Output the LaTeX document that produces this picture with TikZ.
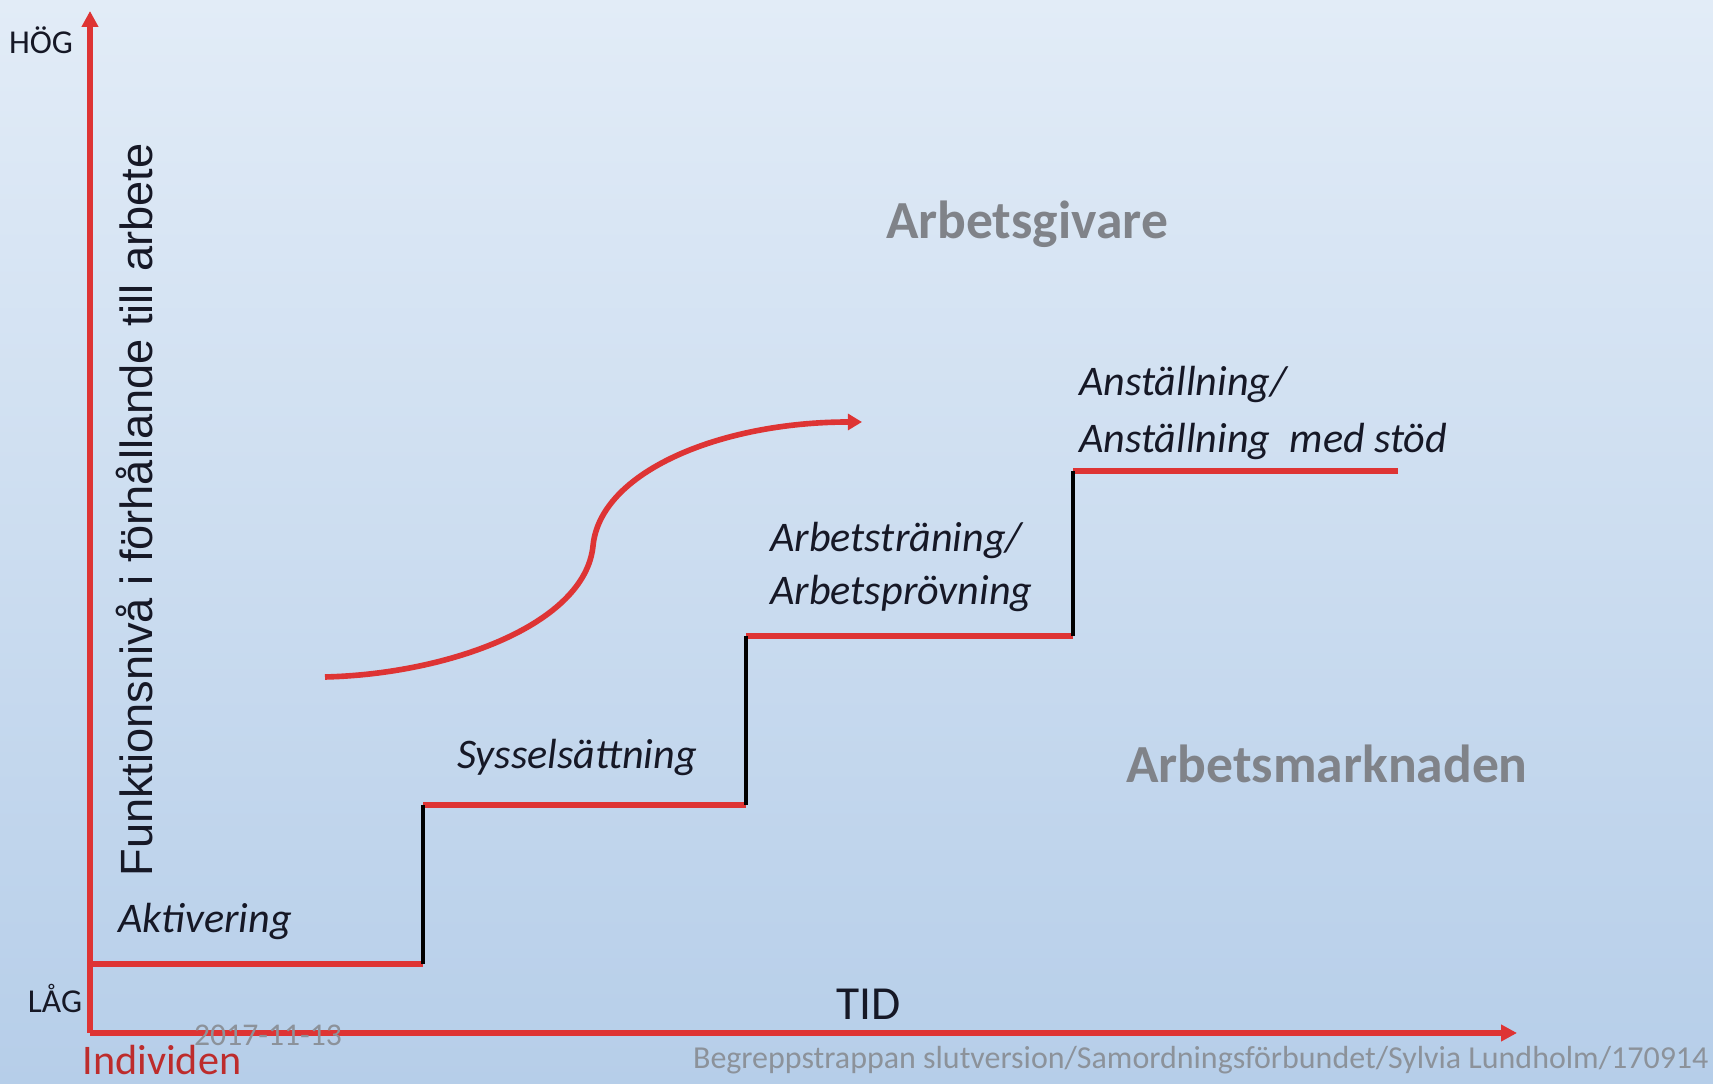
\documentclass[tikz,border=0pt]{standalone}
\usepackage{fontspec}
\setmainfont{Carlito}
\newfontfamily\axisfont{Liberation Sans}
\usetikzlibrary{positioning,arrows.meta}

\definecolor{StairRed}{RGB}{222,52,52}
\definecolor{LabelGray}{RGB}{128,131,137}
\definecolor{FooterGray}{RGB}{140,146,154}
\definecolor{SkyTop}{RGB}{226,236,247}
\definecolor{SkyBottom}{RGB}{182,206,233}
\definecolor{InkBlue}{RGB}{22,24,38}

\tikzset{
	redline/.style={StairRed, line width=3.2pt},
	riser/.style={black, line width=2.2pt},
	steplabel/.style={font=\itshape\fontsize{24}{30}\selectfont, text=InkBlue, inner sep=0pt},
	arealabel/.style={font=\bfseries\fontsize{30.5}{36}\selectfont, text=LabelGray, inner sep=0pt},
	levellabel/.style={font=\fontsize{19}{22}\selectfont, text=InkBlue, inner sep=0pt}
}

\begin{document}
\begin{tikzpicture}[x=0.02cm, y=0.02cm]
			\shade [top color=SkyTop, bottom color=SkyBottom] (0,0) rectangle (1713,1084);
			\useasboundingbox (0,0) rectangle (1713,1084);
			\pgfmathsetmacro{\LowLevel}{120}
			\pgfmathsetmacro{\SecondLevel}{279}
			\pgfmathsetmacro{\ThirdLevel}{448}
			\pgfmathsetmacro{\TopLevel}{613}
			\coordinate (OriginPoint) at (90,51);
			\coordinate (YAxisTip) at (90,1073);
			\coordinate (XAxisTip) at (1517,51);
			\coordinate (StairStart) at (93,\LowLevel);
			\coordinate (RiserOneBottom) at (423,\LowLevel);
			\coordinate (RiserOneTop) at (423,\SecondLevel);
			\coordinate (RiserTwoBottom) at (746,\SecondLevel);
			\coordinate (RiserTwoTop) at (746,\ThirdLevel);
			\coordinate (RiserThreeBottom) at (1073,\ThirdLevel);
			\coordinate (RiserThreeTop) at (1073,\TopLevel);
			\coordinate (StairEnd) at (1398,\TopLevel);
			\coordinate (CurveStart) at (325,407);
			\coordinate (CurveMiddle) at (593,538);
			\coordinate (CurveEnd) at (862,662);
			% axes
			\draw [redline, -{Triangle[length=9pt, width=9pt]}] (OriginPoint) -- (YAxisTip);
			\draw [redline, -{Triangle[length=9pt, width=9pt]}] (OriginPoint) -- (XAxisTip);
			% stairs
			\draw [redline] (StairStart) -- (RiserOneBottom);
			\draw [redline] (RiserOneTop) -- (RiserTwoBottom);
			\draw [redline] (RiserTwoTop) -- (RiserThreeBottom);
			\draw [redline] (RiserThreeTop) -- (StairEnd);
			\draw [riser] (RiserOneBottom) -- (RiserOneTop);
			\draw [riser] (RiserTwoBottom) -- (RiserTwoTop);
			\draw [riser] (RiserThreeBottom) -- (RiserThreeTop);
			% curve
			\draw [redline, -{Triangle[length=8pt, width=9pt]}] (CurveStart) .. controls (450,410) and (585,460) .. (CurveMiddle) .. controls (600,612) and (720,662) .. (CurveEnd);
			% labels
			\node [levellabel] (HighLabel) at (41,1044) {HÖG};
			\node [levellabel] (LowLabel) at (55,86) {LÅG};
			\node [font=\fontsize{24}{28}\selectfont, text=StairRed!85!black, inner sep=0pt] (IndividLabel) at (162,24) {Individen};
			\node [font=\fontsize{18}{22}\selectfont, text=FooterGray, inner sep=0pt] (DateLabel) at (268,49) {2017-11-13};
			\node [font=\fontsize{27}{32}\selectfont, text=InkBlue, inner sep=0pt] (TimeLabel) at (869,80) {TID};
			\node [font=\fontsize{18.2}{22}\selectfont, text=FooterGray, inner sep=0pt, anchor=east] (SourceLabel) at (1709,24) {Begreppstrappan slutversion/Samordningsförbundet/Sylvia Lundholm/170914};
			\node [font=\axisfont\fontsize{25.7}{30}\selectfont, text=InkBlue, inner sep=0pt, rotate=90] (LevelAxisLabel) at (135,574) {Funktionsnivå i förhållande till arbete};
			\node [steplabel] (ActivationLabel) at (205,163) {Aktivering};
			\node [steplabel] (OccupationLabel) at (577,327) {Sysselsättning};
			\node [steplabel, anchor=west, align=left, font=\itshape\fontsize{24}{29.7}\selectfont] (TrainingLabel) at (770,517) {Arbetsträning/\\Arbetsprövning};
			\node [steplabel, anchor=west, align=left, font=\itshape\fontsize{24}{32.2}\selectfont] (EmploymentLabel) at (1079,671) {Anställning/\\Anställning\ \ med stöd};
			\node [arealabel] (EmployerLabel) at (1027,860) {Arbetsgivare};
			\node [arealabel] (MarketLabel) at (1327,320) {Arbetsmarknaden};
		\end{tikzpicture}
\end{document}
